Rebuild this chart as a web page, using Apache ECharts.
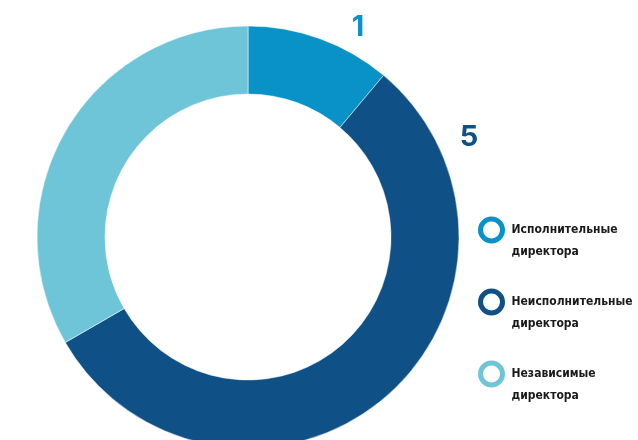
<!DOCTYPE html>
<html>
<head>
<meta charset="utf-8">
<script src="https://cdn.jsdelivr.net/npm/echarts@6/dist/echarts.min.js"></script>
<style>
  html, body { margin: 0; padding: 0; background: #fff; }
  #chart { width: 638px; height: 440px; }
</style>
</head>
<body>
<div id="chart"></div>
<script>
// данные
var names = ['Исполнительные директора', 'Неисполнительные директора', 'Независимые директора']
var values = [1, 5, 3]
var colors = ['#0892c8', '#0f5187', '#6fc5d8']
// позиции подписей (вручную, как в макете)
var labelPos = [[358, 27], [469, 137], [22, 136]]

var myChart = echarts.init(document.getElementById('chart'))

var data = names.map(function (n, i) {
    return { name: n, value: values[i], itemStyle: { color: colors[i] } }
})

var legendData = names.map(function (n, i) {
    return {
        name: n,
        icon: 'circle',
        itemStyle: { color: '#fff', borderColor: colors[i], borderWidth: 5 },
    }
})

var option = {
    animation: false,
    legend: {
        orient: 'vertical',
        left: 473,
        top: 197,
        itemWidth: 22,
        itemHeight: 22,
        itemGap: 16,
        formatter: function (name) {
            // пустая строка сверху — чтобы значок стоял на уровне первой строки
            return '{t|}\n' + name.split(' ').map(function (s) {
                return '{t|' + s + '}'
            }).join('\n')
        },
        textStyle: {
            rich: {
                t: {
                    fontFamily: "'DejaVu Sans Condensed', Roboto, sans-serif",
                    fontWeight: 'bold',
                    fontSize: 12,
                    color: '#1a1a1a',
                    lineHeight: 22,
                    padding: [0, 0, 0, 4],
                },
            },
        },
        data: legendData,
    },
    series: [
        {
            type: 'pie',
            center: [248, 237],
            radius: [143, 211],
            startAngle: 90,
            clockwise: true,
            data: data,
            itemStyle: {
                borderWidth: 0.5,
                borderColor: '#fff',
            },
            emphasis: { disabled: true },
            labelLine: { show: false },
            label: {
                show: true,
                position: 'outside',
                formatter: '{c}',
                fontFamily: 'Inter',
                fontWeight: 'bold',
                fontSize: 29,
                color: 'inherit',
            },
            labelLayout: function (params) {
                var p = labelPos[params.dataIndex]
                return { x: p[0], y: p[1], align: 'center', verticalAlign: 'middle' }
            },
        },
    ],
}

myChart.setOption(option)
</script>
</body>
</html>
